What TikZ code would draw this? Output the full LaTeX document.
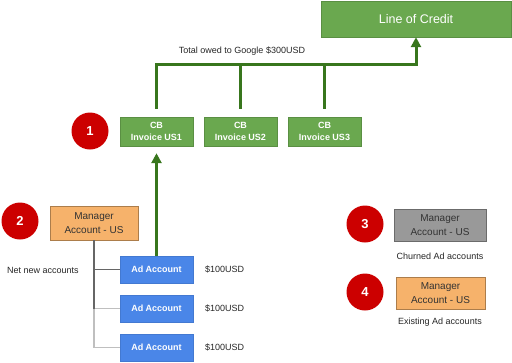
\documentclass[tikz,border=0pt]{standalone}
\usepackage{fontspec}
\setmainfont{Liberation Sans}
\usetikzlibrary{arrows.meta}
\definecolor{creditgreen}{HTML}{6AA84F}
\definecolor{busgreen}{HTML}{38761D}
\definecolor{adblue}{HTML}{4A86E8}
\definecolor{mgrorange}{HTML}{F6B26B}
\definecolor{churngray}{HTML}{999999}
\definecolor{stepred}{HTML}{CC0000}
\begin{document}
\begin{tikzpicture}[x=1pt, y=-1pt,
        >={Triangle[length=10pt,width=10pt]},   %Pfeilspitzen
        greenbox/.style={draw=creditgreen!85!black, fill=creditgreen, text=white, inner sep=0pt, align=center},
        adbox/.style={draw=adblue!90!black, fill=adblue, text=white, font=\fontsize{9}{10}\selectfont\bfseries, minimum width=73pt, minimum height=27pt, inner sep=0pt},
        mgrbox/.style={draw=#1!70!black, fill=#1, text=black!80, font=\fontsize{10}{14.5}\selectfont, align=center, inner sep=0pt},
        stepdot/.style={circle, fill=stepred, text=white, font=\fontsize{13}{15}\selectfont\bfseries, minimum size=37pt, inner sep=0pt},
        note/.style={text=black!85, font=\fontsize{9}{10}\selectfont, inner sep=0pt},
        busline/.style={draw=busgreen, line width=3pt},
        treeline/.style={draw=#1, line width=1.4pt}]
        \useasboundingbox (0,0) rectangle (512,362);
        % Kreditlinie
        \node[greenbox, minimum width=190pt, minimum height=36pt, font=\fontsize{12.5}{14}\selectfont] (credit) at (416,19) {Line of Credit};
        \node[note] (owed) at (242,51) {Total owed to Google \$300USD};
        % Rechnungen
        \foreach \i/\x in {1/156.5, 2/240.5, 3/324.5}
            \node[greenbox, minimum width=73pt, minimum height=29pt, font=\fontsize{9}{11.5}\selectfont\bfseries] (cb\i) at (\x,131.5) {CB\\Invoice US\i};
        \coordinate (bus) at (credit.south |- 0,64);
        \draw[busline, ->, shorten <=8pt] (cb1.north) -- (cb1.north |- bus) -- (bus) -- (credit.south);
        \foreach \i in {2,3}
            \draw[busline, shorten <=8pt] (cb\i.north) -- (cb\i.north |- bus);
        % Nummern
        \node[stepdot] (n1) at (90,131) {1};
        \node[stepdot] (n2) at (20,221) {2};
        \node[stepdot] (n3) at (365,224) {3};
        \node[stepdot] (n4) at (365,292) {4};
        % Verwaltungskonten
        \node[mgrbox=mgrorange, minimum width=88pt, minimum height=34pt] (mgr) at (94,223) {Manager\\Account - US};
        \node[mgrbox=churngray, minimum width=92pt, minimum height=32pt] (churn) at (440,225) {Manager\\Account - US};
        \node[note] (churntext) at (440,256) {Churned Ad accounts};
        \node[mgrbox=mgrorange, minimum width=89pt, minimum height=32pt] (exist) at (440.5,293) {Manager\\Account - US};
        \node[note] (existtext) at (440,322) {Existing Ad accounts};
        % Werbekonten
        \foreach \i/\y in {1/269.5, 2/308.5, 3/347.5} {
            \node[adbox] (ad\i) at (156.5,\y) {Ad Account};
            \node[note, anchor=west] (cost\i) at (205,\y) {\$100USD};
        }
        \node[note, anchor=west] (netnew) at (7,270) {Net new accounts};
        % Baum
        \coordinate (fork) at (mgr.south |- ad2.west);
        \draw[treeline=black!25] (mgr.south) |- (ad3.west);
        \draw[treeline=black!25] (fork) -- (ad2.west);
        \draw[treeline=black!60] (mgr.south) |- (ad1.west);
        \draw[treeline=black!60] (mgr.south) -- (fork);
        \draw[busline, ->, shorten >=7pt] (ad1.north) -- (cb1.south);
    \end{tikzpicture}
\end{document}
